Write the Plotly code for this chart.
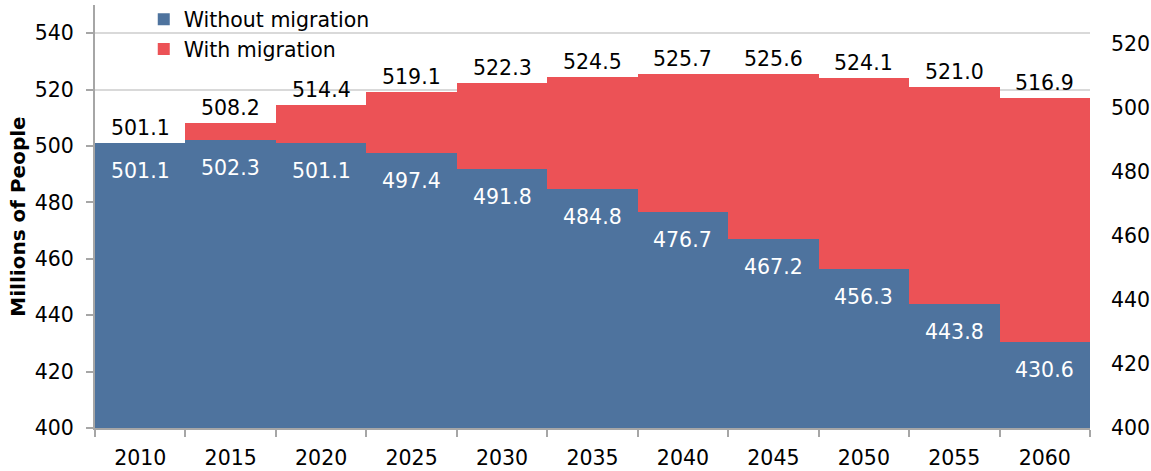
import plotly.graph_objects as go

years = ["2010", "2015", "2020", "2025", "2030", "2035", "2040", "2045", "2050", "2055", "2060"]
without_migration = [501.1, 502.3, 501.1, 497.4, 491.8, 484.8, 476.7, 467.2, 456.3, 443.8, 430.6]
with_migration = [501.1, 508.2, 514.4, 519.1, 522.3, 524.5, 525.7, 525.6, 524.1, 521.0, 516.9]
left_ticks = [400, 420, 440, 460, 480, 500, 520, 540]
right_ticks = [400, 420, 440, 460, 480, 500, 520]

BLUE = "#4E739E"
RED = "#EC5256"
FONT = "DejaVu Sans"
FS = 20.5

fig = go.Figure()
fig.add_trace(go.Bar(x=years, y=[v - 400 for v in with_migration], base=400,
                     marker=dict(color=RED, line=dict(width=0)), name="With migration",
                     legendrank=2, hoverinfo="skip"))
fig.add_trace(go.Bar(x=years, y=[v - 400 for v in without_migration], base=400,
                     marker=dict(color=BLUE, line=dict(width=0)), name="Without migration",
                     legendrank=1, hoverinfo="skip"))
# invisible trace to display the secondary axis
fig.add_trace(go.Scatter(x=years, y=with_migration, yaxis="y2", mode="markers",
                         marker=dict(opacity=0), showlegend=False, hoverinfo="skip"))

for i, v in enumerate(with_migration):
    fig.add_annotation(x=i, y=v, text=f"{v:.1f}", showarrow=False, yshift=15,
                       font=dict(family=FONT, size=FS, color="#000000"))
for i, v in enumerate(without_migration):
    fig.add_annotation(x=i, y=v, text=f"{v:.1f}", showarrow=False, yshift=-28,
                       font=dict(family=FONT, size=FS, color="#FFFFFF"))

fig.update_layout(
    width=1151, height=471,
    margin=dict(l=95, r=61, t=5, b=43, autoexpand=False),
    paper_bgcolor="white", plot_bgcolor="white",
    barmode="overlay", bargap=0,
    font=dict(family=FONT, size=FS, color="#000000"),
    legend=dict(x=0.049, y=1.013, xanchor="left", yanchor="top",
                bgcolor="rgba(0,0,0,0)", font=dict(family=FONT, size=20.5),
                itemwidth=30, tracegroupgap=0),
    xaxis=dict(type="category", range=[-0.5, 10.5], showline=True, linecolor="#A6A6A6",
               linewidth=2, ticks="outside", tickson="boundaries", ticklen=7,
               tickcolor="#A6A6A6", tickwidth=2, showgrid=False, tickfont=dict(size=FS),
               tickangle=0, automargin=False, ticklabelstandoff=10),
    yaxis=dict(range=[400, 550], tickvals=left_ticks, showline=True, linecolor="#A6A6A6",
               linewidth=2, ticks="outside", ticklen=7, tickcolor="#A6A6A6", tickwidth=2,
               showgrid=True, gridcolor="#D9D9D9", gridwidth=1.5, zeroline=False,
               tickfont=dict(size=FS), automargin=False, ticklabelstandoff=8,
               title=dict(text="<b>Millions of People</b>", font=dict(family=FONT, size=20),
                          standoff=4)),
    yaxis2=dict(range=[400, 532.2], tickvals=right_ticks, overlaying="y", side="right",
                showline=False, showgrid=False, zeroline=False, ticks="",
                tickfont=dict(size=FS), ticklabelstandoff=20, automargin=False),
)

fig.write_html("out.html", config={"displayModeBar": False},
               post_script="document.body.style.margin='0';document.body.style.padding='0';")
